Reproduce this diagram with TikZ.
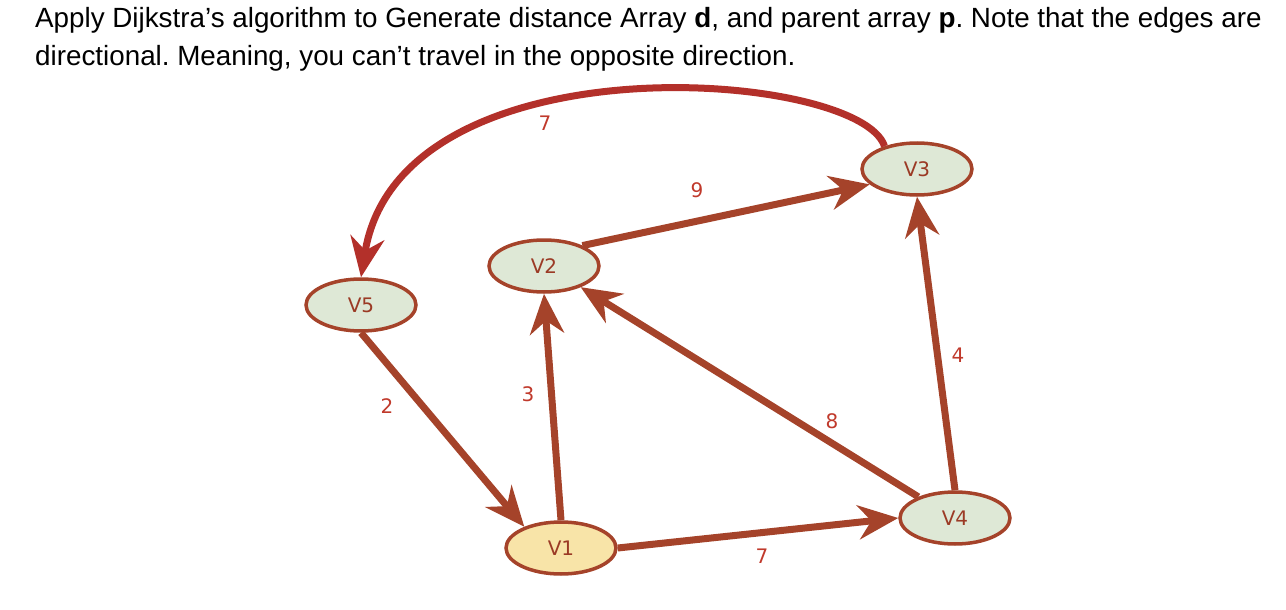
\documentclass[tikz,border=0pt]{standalone}
\usepackage{fontspec}
\setmainfont{Liberation Sans}
\newfontfamily\graphfont{DejaVu Sans}
\usetikzlibrary{arrows.meta,shapes.geometric}
\definecolor{edgebrown}{HTML}{A5432A}
\definecolor{curvered}{HTML}{B3302A}
\definecolor{nodegreen}{HTML}{DEE8D6}
\definecolor{nodeyellow}{HTML}{F8E4A8}
\definecolor{labelred}{HTML}{C0392B}
\definecolor{nodetext}{HTML}{9B3A25}
\frenchspacing
\tikzset{
  vertex/.style={ellipse, draw=edgebrown, line width=3.5pt, fill=nodegreen,
    minimum width=110pt, minimum height=52pt, inner sep=0pt,
    font=\graphfont\fontsize{20}{22}\selectfont, text=nodetext},
  startvertex/.style={vertex, fill=nodeyellow},
  edge/.style={draw=edgebrown, line width=7pt,
    -{Stealth[length=40pt, width=34pt, inset=13pt]}},
  curveedge/.style={draw=curvered, line width=7pt,
    -{Stealth[length=40pt, width=34pt, inset=13pt]}},
  weight/.style={font=\graphfont\fontsize{20}{22}\selectfont, text=labelred, inner sep=0pt},
  heading/.style={font=\fontsize{27.8}{33}\selectfont, inner sep=0pt, anchor=base west}
}
\begin{document}
\begin{tikzpicture}[x=1pt, y=-1pt]
\useasboundingbox (0,0) rectangle (1286,610);
\node[heading] (line1) at (35,28) {Apply Dijkstra’s algorithm to Generate distance Array \textbf{d}, and parent array \textbf{p}. Note that the edges are};
\node[heading] (line2) at (35,66) {directional. Meaning, you can’t travel in the opposite direction.};

\node[vertex] (V5) at (361,305) {V5};
\node[vertex] (V2) at (544,266) {V2};
\node[vertex] (V3) at (917,169) {V3};
\node[vertex] (V4) at (955,518) {V4};
\node[startvertex] (V1) at (561,548) {V1};

\draw[curveedge] (V3.145) .. controls (860,70) and (400,35) .. (V5.north);
\draw[edge] (V5.south) -- (V1.150);
\draw[edge] (V1.north) -- (V2.south);
\draw[edge] (V1.east) -- (V4.west);
\draw[edge] (V4.150) -- (V2.-30);
\draw[edge] (V4.north) -- (V3.south);
\draw[edge] (V2.28) -- (V3.198);

\node[weight] (w35) at (545,123) {7};
\node[weight] (w23) at (697,190) {9};
\node[weight] (w51) at (387,406) {2};
\node[weight] (w12) at (528,394) {3};
\node[weight] (w42) at (832,421) {8};
\node[weight] (w43) at (958,355) {4};
\node[weight] (w14) at (762,556) {7};
\end{tikzpicture}
\end{document}
